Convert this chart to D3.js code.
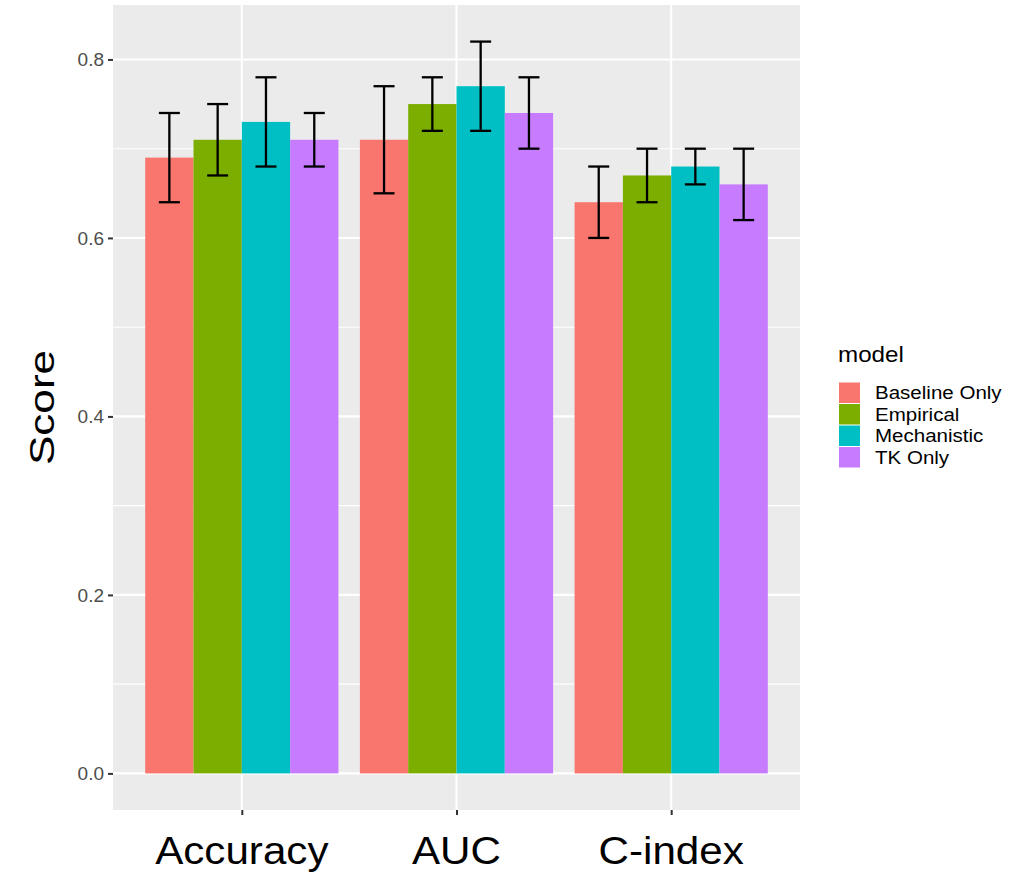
<!DOCTYPE html>
<html>
<head>
<meta charset="utf-8">
<script src="https://cdn.jsdelivr.net/npm/d3@7"></script>
<style>
  body { margin: 0; background: #fff; }
  text { font-family: "Liberation Sans", Arial, sans-serif; }
</style>
</head>
<body>
<svg id="chart" width="1030" height="874"></svg>
<script>
const categories = ["Accuracy", "AUC", "C-index"];
const models = ["Baseline Only", "Empirical", "Mechanistic", "TK Only"];
const colors = ["#F8766D", "#7CAE00", "#00BFC4", "#C77CFF"];
// values per model, one entry per category
const scoreBaseline    = [0.69, 0.71, 0.64];
const scoreEmpirical   = [0.71, 0.75, 0.67];
const scoreMechanistic = [0.73, 0.77, 0.68];
const scoreTKOnly      = [0.71, 0.74, 0.66];
const lowBaseline      = [0.64, 0.65, 0.60];
const lowEmpirical     = [0.67, 0.72, 0.64];
const lowMechanistic   = [0.68, 0.72, 0.66];
const lowTKOnly        = [0.68, 0.70, 0.62];
const highBaseline     = [0.74, 0.77, 0.68];
const highEmpirical    = [0.75, 0.78, 0.70];
const highMechanistic  = [0.78, 0.82, 0.70];
const highTKOnly       = [0.74, 0.78, 0.70];
const yTicks = [0.0, 0.2, 0.4, 0.6, 0.8];
const yMinor = [0.1, 0.3, 0.5, 0.7];

const scores = [scoreBaseline, scoreEmpirical, scoreMechanistic, scoreTKOnly];
const lows = [lowBaseline, lowEmpirical, lowMechanistic, lowTKOnly];
const highs = [highBaseline, highEmpirical, highMechanistic, highTKOnly];

const rows = [];
models.forEach((m, mi) => categories.forEach((c, ci) => {
  rows.push({model: m, mi, cat: c, v: scores[mi][ci], lo: lows[mi][ci], hi: highs[mi][ci]});
}));

const svg = d3.select("#chart");
const P = {left: 113, right: 800, top: 5, bottom: 810};

// ggplot-style discrete scale: expansion 0.6 units on each side
const xc = d3.scaleLinear().domain([-0.6, categories.length - 1 + 0.6]).range([P.left, P.right]);
const unit = xc(1) - xc(0);
const cx = c => xc(categories.indexOf(c));
const groupW = 0.9 * unit;
const xs = d3.scaleBand().domain(models).range([-groupW / 2, groupW / 2]).padding(0);

const dmax = d3.max(rows, d => d.hi);
const span = dmax - 0;
const y = d3.scaleLinear().domain([0 - span * 0.05, dmax + span * 0.05]).range([P.bottom, P.top]);

svg.append("rect").attr("x", P.left).attr("y", P.top)
  .attr("width", P.right - P.left).attr("height", P.bottom - P.top).attr("fill", "#EBEBEB");

svg.append("g").selectAll("line").data(yMinor).join("line")
  .attr("x1", P.left).attr("x2", P.right).attr("y1", d => y(d)).attr("y2", d => y(d))
  .attr("stroke", "#fff").attr("stroke-width", 1.1);
svg.append("g").selectAll("line").data(yTicks).join("line")
  .attr("x1", P.left).attr("x2", P.right).attr("y1", d => y(d)).attr("y2", d => y(d))
  .attr("stroke", "#fff").attr("stroke-width", 2.1);
svg.append("g").selectAll("line").data(categories).join("line")
  .attr("x1", d => cx(d)).attr("x2", d => cx(d)).attr("y1", P.top).attr("y2", P.bottom)
  .attr("stroke", "#fff").attr("stroke-width", 2.1);

// bars
svg.append("g").selectAll("rect").data(rows).join("rect")
  .attr("x", d => cx(d.cat) + xs(d.model))
  .attr("width", xs.bandwidth())
  .attr("y", d => y(d.v))
  .attr("height", d => y(0) - y(d.v))
  .attr("fill", d => colors[d.mi]);

// error bars
const capW = 21;
const eb = svg.append("g").attr("stroke", "#000").attr("stroke-width", 2.3).attr("fill", "none");
rows.forEach(d => {
  const mx = cx(d.cat) + xs(d.model) + xs.bandwidth() / 2;
  eb.append("line").attr("x1", mx).attr("x2", mx).attr("y1", y(d.lo)).attr("y2", y(d.hi));
  eb.append("line").attr("x1", mx - capW / 2).attr("x2", mx + capW / 2).attr("y1", y(d.lo)).attr("y2", y(d.lo));
  eb.append("line").attr("x1", mx - capW / 2).attr("x2", mx + capW / 2).attr("y1", y(d.hi)).attr("y2", y(d.hi));
});

// y axis
const ya = svg.append("g").attr("transform", `translate(${P.left},0)`)
  .call(d3.axisLeft(y).tickValues(yTicks).tickFormat(d3.format(".1f")).tickSize(5).tickPadding(4));
ya.select(".domain").remove();
ya.selectAll(".tick line").attr("stroke", "#333").attr("stroke-width", 2);
ya.selectAll(".tick text").attr("fill", "#4D4D4D").style("font-size", "19px")
  .style("font-family", "Liberation Sans, Arial, sans-serif");

// x axis
const xa = svg.append("g").attr("transform", `translate(0,${P.bottom})`)
  .call(d3.axisBottom(d3.scalePoint().domain(categories).range([cx(categories[0]), cx(categories[categories.length - 1])]))
    .tickSize(5).tickPadding(0));
xa.select(".domain").remove();
xa.selectAll(".tick line").attr("stroke", "#333").attr("stroke-width", 2);
xa.selectAll(".tick text").remove();
categories.forEach(c => {
  svg.append("text").attr("transform", `translate(${cx(c)},864) scale(1.11,1)`)
    .attr("text-anchor", "middle").attr("fill", "#000").style("font-size", "38px").text(c);
});

// y title
svg.append("text").attr("transform", `translate(54,${(P.top + P.bottom) / 2}) rotate(-90) scale(1.26,1)`)
  .attr("text-anchor", "middle").attr("fill", "#000").style("font-size", "35px").text("Score");

// legend
const lg = svg.append("g");
lg.append("text").attr("transform", "translate(838,362) scale(1.1,1)").style("font-size", "22px").attr("fill", "#000").text("model");
models.forEach((m, i) => {
  const ky = 382 + i * 21.5;
  lg.append("rect").attr("x", 839).attr("y", ky + 0.5).attr("width", 21).attr("height", 20.5).attr("fill", colors[i]);
  lg.append("text").attr("transform", `translate(875,${ky + 17}) scale(1.11,1)`).style("font-size", "18.5px")
    .attr("fill", "#000").text(m);
});
</script>
</body>
</html>
